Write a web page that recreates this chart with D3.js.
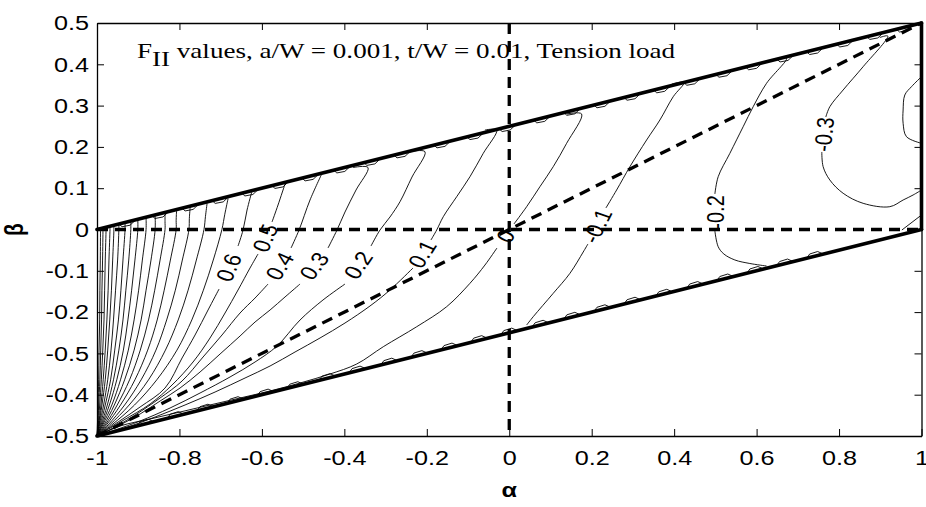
<!DOCTYPE html>
<html><head><meta charset="utf-8">
<script src="https://cdn.jsdelivr.net/npm/d3@7/dist/d3.min.js"></script>
<style>
html,body{margin:0;padding:0;background:#fff;}
svg{display:block;}
</style></head>
<body>
<svg id="chart" width="926" height="507"></svg>
<script>
// ---- axis ticks ----
const alphaTicks = [-1, -0.8, -0.6, -0.4, -0.2, 0, 0.2, 0.4, 0.6, 0.8, 1];
const alphaTickLabels = ["-1", "-0.8", "-0.6", "-0.4", "-0.2", "0", "0.2", "0.4", "0.6", "0.8", "1"];
const betaTicks = [-0.5, -0.4, -0.3, -0.2, -0.1, 0, 0.1, 0.2, 0.3, 0.4, 0.5];
const betaTickLabels = ["-0.5", "-0.4", "-0.5", "-0.2", "-0.1", "0", "0.1", "0.2", "0.3", "0.4", "0.5"];

// ---- domain boundary (solid) and reference lines (dashed), in (alpha, beta) ----
const boundaryEdges = [
  [[-1, 0], [1, 0.5]],
  [[-1, -0.5], [1, 0]],
  [[1, 0], [1, 0.5]]
];
const referenceLines = [
  [[-1, 0], [1, 0]],
  [[0, 0.5], [0, -0.5]],
  [[-1, -0.5], [1, 0.5]]
];

// grid steps where the crowded contours poke out along the slanted edges (alpha)
const topEdgeSteps = [-0.932, -0.852, -0.779, -0.706, -0.634, -0.561, -0.488, -0.411, -0.338, -0.265,
  -0.168, -0.088, -0.01, 0.074, 0.147, 0.22, 0.293, 0.365, 0.438, 0.516, 0.588, 0.664, 0.736, 0.809, 0.882, 0.954];
const bottomEdgeSteps = [-0.888, -0.815, -0.743, -0.670, -0.597, -0.525, -0.447, -0.374, -0.297, -0.224,
  -0.151, -0.079, -0.006, 0.070, 0.147, 0.220, 0.293, 0.370, 0.445, 0.518, 0.591, 0.663, 0.736];

// ---- F_II contour lines: each is a list of pieces [alpha, beta]; a break between pieces holds the label ----
const contourLines = [
  { level: "0.6", pieces: [
    [[-0.6246, 0.0908], [-0.6360, 0.0472], [-0.6457, -0.0012], [-0.6579, -0.0400]],
    [[-0.7039, -0.1441], [-0.7306, -0.1949], [-0.7621, -0.2554], [-0.7936, -0.3111], [-0.8349, -0.3838],
     [-0.8955, -0.4298], [-0.9488, -0.4661], [-1, -0.5]]] },
  { level: "0.5", pieces: [
    [[-0.5439, 0.1102], [-0.5609, 0.0593], [-0.5754, 0.0182]],
    [[-0.6094, -0.0593], [-0.6288, -0.0932], [-0.6579, -0.1465], [-0.6894, -0.2022], [-0.7258, -0.2627],
     [-0.7670, -0.3208], [-0.8179, -0.3765], [-0.8712, -0.4225], [-0.9391, -0.4637], [-1, -0.5]]] },
  { level: "0.4", pieces: [
    [[-0.4549, 0.1344], [-0.4833, 0.0714], [-0.5099, -0.0012], [-0.5293, -0.0448]],
    [[-0.5851, -0.1320], [-0.6166, -0.1659], [-0.6530, -0.2022], [-0.6967, -0.2554], [-0.7427, -0.3087],
     [-0.7936, -0.3668], [-0.8470, -0.4080], [-0.9076, -0.4492], [-0.9561, -0.4782], [-1, -0.5]]] },
  { level: "0.3", pieces: [
    [[-0.3790, 0.1501], [-0.3426, 0.1501], [-0.3717, 0.0956], [-0.3984, 0.0424], [-0.4178, -0.0012], [-0.4396, -0.0448]],
    [[-0.5075, -0.1320], [-0.5439, -0.1634], [-0.5802, -0.1949], [-0.6166, -0.2240], [-0.6530, -0.2579],
     [-0.7015, -0.3015], [-0.7500, -0.3450], [-0.7985, -0.3838], [-0.8470, -0.4153], [-0.8955, -0.4467],
     [-0.9488, -0.4758], [-1, -0.5]]] },
  { level: "0.2", pieces: [
    [[-0.2408, 0.1884], [-0.2044, 0.1884], [-0.2359, 0.1271], [-0.2650, 0.0673], [-0.2893, 0.0303],
     [-0.3135, -0.0012], [-0.3354, -0.0400]],
    [[-0.3984, -0.1320], [-0.4518, -0.1707], [-0.5075, -0.2191], [-0.5633, -0.2821], [-0.6166, -0.3208],
     [-0.6773, -0.3571], [-0.7500, -0.3959], [-0.8227, -0.4322], [-0.8955, -0.4637], [-0.9561, -0.4855], [-1, -0.5]]] },
  { level: "0.1", pieces: [
    [[-0.0589, 0.2409], [-0.0306, 0.2409], [-0.0630, 0.1845], [-0.0953, 0.1278], [-0.1275, 0.0794],
     [-0.1600, 0.0310], [-0.1760, -0.0012], [-0.1899, -0.0254]],
    [[-0.2335, -0.0932], [-0.2893, -0.1465], [-0.3378, -0.1852], [-0.3984, -0.2264], [-0.4590, -0.2627],
     [-0.5196, -0.2966], [-0.5802, -0.3305], [-0.6409, -0.3596], [-0.7136, -0.3935], [-0.7864, -0.4249],
     [-0.8591, -0.4540], [-0.9319, -0.4806], [-1, -0.5]]] },
  { level: "0", pieces: [
    [[0.1399, 0.2797], [0.1756, 0.2797], [0.1392, 0.2087], [0.1067, 0.1521], [0.0744, 0.1036],
     [0.0422, 0.0552], [0.0114, 0.0133]],
    [[-0.0298, -0.0448], [-0.0589, -0.0860], [-0.0953, -0.1303], [-0.1518, -0.1869], [-0.2245, -0.2354],
     [-0.3055, -0.2838], [-0.3700, -0.3257], [-0.4348, -0.3499], [-0.5075, -0.3717], [-0.5802, -0.3910],
     [-0.6530, -0.4080], [-0.7258, -0.4249], [-0.7985, -0.4419], [-0.8712, -0.4588], [-0.9440, -0.4758], [-1, -0.5]]] },
  { level: "-0.1", pieces: [
    [[0.3945, 0.3523], [0.4243, 0.3564], [0.3977, 0.3215], [0.3654, 0.2651], [0.3332, 0.2167],
     [0.2927, 0.1521], [0.2604, 0.0956], [0.2345, 0.0521]],
    [[0.1908, -0.0351], [0.1794, -0.0545], [0.1472, -0.1061], [0.1067, -0.1545], [0.0582, -0.2111], [0.0422, -0.2312]]] },
  { level: "-0.2", pieces: [
    [[0.6467, 0.4130], [0.6726, 0.4150], [0.6241, 0.3540], [0.5917, 0.2973], [0.5674, 0.2489],
     [0.5352, 0.1845], [0.5068, 0.1278], [0.4988, 0.0860]],
    [[0.4988, -0.0036], [0.5068, -0.0416], [0.5206, -0.0593], [0.5473, -0.0738], [0.5836, -0.0823], [0.6241, -0.0884]]] },
  { level: "-0.3", pieces: [
    [[0.8989, 0.4649], [0.9183, 0.4685], [0.8584, 0.3942], [0.8099, 0.3378], [0.7776, 0.2973], [0.7679, 0.2724]],
    [[0.7582, 0.1877], [0.7614, 0.1521], [0.7776, 0.1199], [0.8099, 0.0877], [0.8584, 0.0634],
     [0.9231, 0.0552], [0.9554, 0.0714], [0.9796, 0.0835], [1.0, 0.0956]]] },
  { level: "-0.4", pieces: [
    [[1.0, 0.370], [0.9757, 0.3458], [0.9595, 0.3257], [0.9554, 0.2893], [0.9554, 0.2571], [0.9636, 0.2247], [1.0, 0.2087]]] },
  { level: "-0.3", pieces: [[[0.9525, -0.0012], [1.0, 0.0351]]] },
  { level: "0.7", pieces: [[[-0.682, 0.075], [-0.690, 0.037], [-0.697, 0], [-0.718, -0.074], [-0.742, -0.147], [-0.770, -0.219], [-0.806, -0.292], [-0.855, -0.364], [-0.909, -0.425], [-0.964, -0.473], [-1, -0.5]]] },
  { level: "0.8", pieces: [[[-0.733, 0.063], [-0.737, 0.031], [-0.7405, 0], [-0.759, -0.074], [-0.779, -0.147], [-0.803, -0.219], [-0.834, -0.292], [-0.875, -0.364], [-0.922, -0.425], [-0.969, -0.473], [-1, -0.5]]] },
  { level: "0.9", pieces: [[[-0.774, 0.054], [-0.776, 0.027], [-0.777, 0], [-0.793, -0.074], [-0.810, -0.147], [-0.831, -0.219], [-0.857, -0.292], [-0.893, -0.364], [-0.933, -0.425], [-0.973, -0.473], [-1, -0.5]]] },
  { level: "1.0", pieces: [[[-0.807, 0.045], [-0.808, 0.022], [-0.808, 0], [-0.822, -0.074], [-0.837, -0.147], [-0.854, -0.219], [-0.877, -0.292], [-0.908, -0.364], [-0.943, -0.425], [-0.977, -0.473], [-1, -0.5]]] },
  { level: "1.1", pieces: [[[-0.835, 0.039], [-0.835, 0.019], [-0.835, 0], [-0.847, -0.074], [-0.860, -0.147], [-0.875, -0.219], [-0.895, -0.292], [-0.921, -0.364], [-0.951, -0.425], [-0.980, -0.473], [-1, -0.5]]] },
  { level: "1.2", pieces: [[[-0.859, 0.033], [-0.859, 0], [-0.869, -0.074], [-0.881, -0.147], [-0.893, -0.219], [-0.910, -0.292], [-0.933, -0.364], [-0.958, -0.425], [-0.983, -0.473], [-1, -0.5]]] },
  { level: "1.3", pieces: [[[-0.881, 0.028], [-0.881, 0], [-0.890, -0.074], [-0.899, -0.147], [-0.910, -0.219], [-0.924, -0.292], [-0.943, -0.364], [-0.964, -0.425], [-0.986, -0.473], [-1, -0.5]]] },
  { level: "1.4", pieces: [[[-0.901, 0.023], [-0.901, 0], [-0.908, -0.074], [-0.916, -0.147], [-0.925, -0.219], [-0.936, -0.292], [-0.952, -0.364], [-0.970, -0.425], [-0.988, -0.473], [-1, -0.5]]] },
  { level: "1.5", pieces: [[[-0.918, 0.019], [-0.918, 0], [-0.923, -0.074], [-0.930, -0.147], [-0.937, -0.219], [-0.947, -0.292], [-0.960, -0.364], [-0.975, -0.425], [-0.990, -0.473], [-1, -0.5]]] },
  { level: "1.6", pieces: [[[-0.932, 0.016], [-0.932, 0], [-0.937, -0.074], [-0.942, -0.147], [-0.948, -0.219], [-0.957, -0.292], [-0.967, -0.364], [-0.980, -0.425], [-0.992, -0.473], [-1, -0.5]]] },
  { level: "1.7", pieces: [[[-0.947, 0.012], [-0.947, 0], [-0.950, -0.074], [-0.955, -0.147], [-0.960, -0.219], [-0.966, -0.292], [-0.974, -0.364], [-0.984, -0.425], [-0.994, -0.473], [-1, -0.5]]] },
  { level: "1.8", pieces: [[[-0.959, 0.0095], [-0.959, 0], [-0.962, -0.074], [-0.965, -0.147], [-0.969, -0.219], [-0.974, -0.292], [-0.980, -0.364], [-0.988, -0.425], [-0.995, -0.473], [-1, -0.5]]] },
  { level: "1.9", pieces: [[[-0.9685, 0.007], [-0.9685, 0], [-0.971, -0.074], [-0.973, -0.147], [-0.976, -0.219], [-0.980, -0.292], [-0.985, -0.364], [-0.9905, -0.425], [-0.996, -0.473], [-1, -0.5]]] },
  { level: "2.0", pieces: [[[-0.978, 0.005], [-0.978, 0], [-0.980, -0.074], [-0.9815, -0.147], [-0.983, -0.219], [-0.986, -0.292], [-0.9895, -0.364], [-0.9935, -0.425], [-0.997, -0.473], [-1, -0.5]]] },
  { level: "2.1", pieces: [[[-0.9855, 0.003], [-0.9855, 0], [-0.9865, -0.074], [-0.988, -0.147], [-0.989, -0.219], [-0.991, -0.292], [-0.993, -0.364], [-0.996, -0.425], [-0.998, -0.473], [-1, -0.5]]] },
  { level: "2.2", pieces: [[[-0.9915, 0.0015], [-0.9915, 0], [-0.992, -0.074], [-0.993, -0.147], [-0.9935, -0.219], [-0.995, -0.292], [-0.996, -0.364], [-0.9975, -0.425], [-0.999, -0.473], [-1, -0.5]]] }
];

const titleMain = "F";
const titleSub = "II";
const titleRest = " values, a/W = 0.001, t/W = 0.01, Tension load";

// ---- layout ----
const svg = d3.select("#chart");
const plot = { left: 97, right: 921.5, top: 23, bottom: 436 };
const x = d3.scaleLinear().domain([-1, 1]).range([plot.left, plot.right]);
const y = d3.scaleLinear().domain([-0.5, 0.5]).range([plot.bottom, plot.top]);
const sansFont = "'Liberation Sans', Arial, Helvetica, sans-serif";
const serifFont = "'Liberation Serif', 'Times New Roman', serif";
const wide = 1.2; // glyphs are drawn somewhat wider than tall

// axes: box with inward ticks on all four sides
const axisStyle = g => {
  g.select(".domain").attr("stroke", "#000").attr("stroke-width", 1.3);
  g.selectAll(".tick line").attr("stroke", "#000").attr("stroke-width", 1);
  g.selectAll(".tick text").attr("font-family", sansFont).attr("font-size", 21).attr("fill", "#000")
    .attr("transform", `scale(${wide},1)`);
};
svg.append("g").attr("transform", `translate(0,${plot.bottom})`)
  .call(d3.axisBottom(x).tickValues(alphaTicks).tickFormat((d, i) => alphaTickLabels[i])
    .tickSizeInner(-7).tickSizeOuter(0).tickPadding(14))
  .call(axisStyle);
svg.append("g").attr("transform", `translate(${plot.left},0)`)
  .call(d3.axisLeft(y).tickValues(betaTicks).tickFormat((d, i) => betaTickLabels[i])
    .tickSizeInner(-7).tickSizeOuter(0).tickPadding(6.7))
  .call(axisStyle);
svg.append("g").attr("transform", `translate(0,${plot.top})`)
  .call(d3.axisTop(x).tickValues(alphaTicks).tickFormat("").tickSizeInner(-7).tickSizeOuter(0))
  .call(axisStyle);
svg.append("g").attr("transform", `translate(${plot.right},0)`)
  .call(d3.axisRight(y).tickValues(betaTicks).tickFormat("").tickSizeInner(-7).tickSizeOuter(0))
  .call(axisStyle);

// axis titles
svg.append("text").attr("transform", `translate(${x(0)},497) scale(${wide},1)`).attr("text-anchor", "middle")
  .attr("font-family", sansFont).attr("font-size", 21).attr("font-weight", "bold").text("α");
svg.append("text").attr("transform", `translate(23,${y(0)}) scale(${wide},1) rotate(-90)`).attr("text-anchor", "middle")
  .attr("font-family", sansFont).attr("font-size", 21).attr("font-weight", "bold").text("β");

// ---- contour lines ----
const line = d3.line().x(d => x(d[0])).y(d => y(d[1])).curve(d3.curveCatmullRom.alpha(0.5));
const contourG = svg.append("g").attr("fill", "none").attr("stroke", "#000").attr("stroke-width", 0.9);
contourLines.forEach(c => {
  c.pieces.forEach(p => contourG.append("path").attr("d", line(p)));
});

// steps of the crowded contours along the slanted edges
const edgeBeta = {
  top: a => 0.25 + 0.25 * a,
  bottom: a => -0.25 + 0.25 * a
};
function stepPath(steps, edge, inward) {
  const pts = [[x(-1), y(edge(-1))]];
  const k = 0.2504; // slope of the edge on screen
  steps.forEach(a => {
    const px = x(a), py = y(edge(a));
    pts.push([px - 6, py + k * 6]);
    pts.push([px - 3, py + k * 3 + inward * 3.5]);
    pts.push([px + 5, py - k * 5 + inward * 4]);
    pts.push([px + 10, py - k * 10 + inward * 0.5]);
  });
  pts.push([x(1), y(edge(1))]);
  return d3.line()(pts);
}
svg.append("path").attr("d", stepPath(topEdgeSteps, edgeBeta.top, 1))
  .attr("fill", "none").attr("stroke", "#000").attr("stroke-width", 0.9);
svg.append("path").attr("d", stepPath(bottomEdgeSteps, edgeBeta.bottom, -1))
  .attr("fill", "none").attr("stroke", "#000").attr("stroke-width", 0.9);

// ---- contour labels, centred in each break and turned along the line ----
const labelG = svg.append("g").attr("font-family", sansFont).attr("font-size", 20).attr("fill", "#000");
contourLines.filter(c => c.pieces.length > 1).forEach(c => {
  const a = c.pieces[0][c.pieces[0].length - 1], b = c.pieces[1][0];
  const p1 = [x(a[0]), y(a[1])], p2 = [x(b[0]), y(b[1])];
  let vx = (p2[0] - p1[0]) / wide, vy = p2[1] - p1[1];
  if (vy > 0) { vx = -vx; vy = -vy; }
  const ang = Math.atan2(vy, vx) * 180 / Math.PI;
  const cx = (p1[0] + p2[0]) / 2, cy = (p1[1] + p2[1]) / 2;
  labelG.append("text")
    .attr("transform", `translate(${cx},${cy}) scale(${wide},1) rotate(${ang})`)
    .attr("text-anchor", "middle").attr("dy", "0.36em").text(c.level);
});

// ---- boundary and reference lines ----
svg.append("g").selectAll("path").data(boundaryEdges).join("path")
  .attr("d", d => d3.line()(d.map(p => [x(p[0]), y(p[1])])))
  .attr("fill", "none").attr("stroke", "#000").attr("stroke-width", 3.6).attr("stroke-linecap", "round");
svg.append("g").selectAll("path").data(referenceLines).join("path")
  .attr("d", d => d3.line()(d.map(p => [x(p[0]), y(p[1])])))
  .attr("fill", "none").attr("stroke", "#000").attr("stroke-width", 3.3).attr("stroke-dasharray", "11,7");

// ---- title ----
const title = svg.append("text").attr("transform", "translate(137,58) scale(1.23,1)")
  .attr("font-family", serifFont).attr("font-size", 22).attr("fill", "#000");
title.append("tspan").text(titleMain);
title.append("tspan").attr("dy", 8).text(titleSub);
title.append("tspan").attr("dy", -8).text(titleRest);
</script>
</body></html>
